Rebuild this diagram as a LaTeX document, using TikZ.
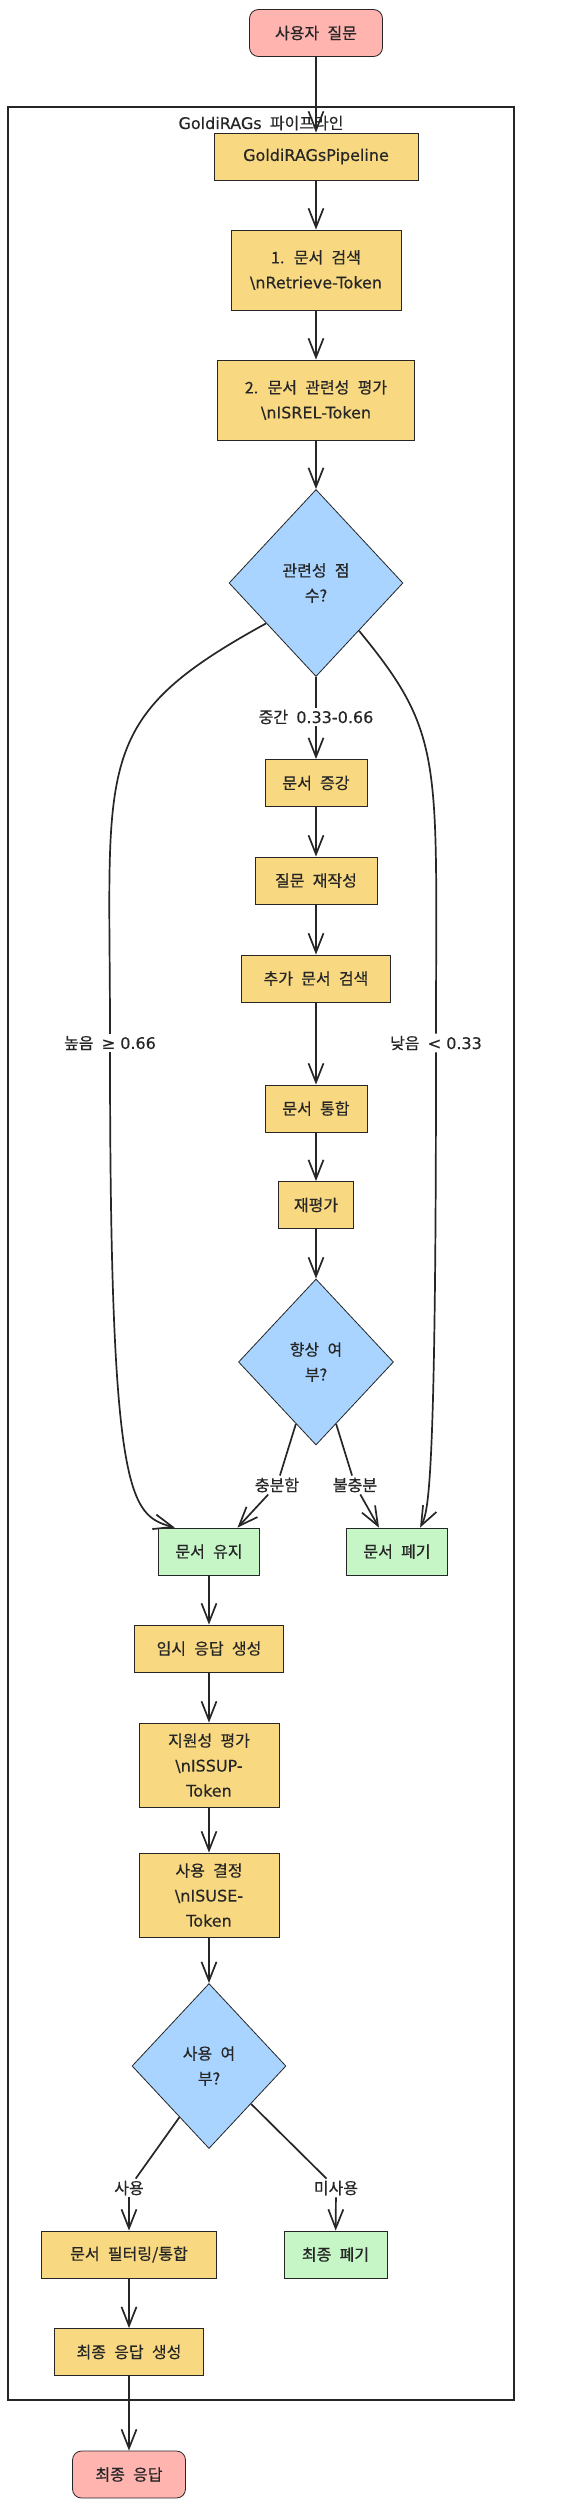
\documentclass[tikz,border=0pt]{standalone}
\usepackage{fontspec}
\setmainfont{Noto Sans CJK KR}[WordSpace=2.3, FakeBold=0.5]
\newfontfamily\lat{DejaVu Sans}[FakeBold=0.3]
\usetikzlibrary{arrows.meta,shapes.geometric}

\definecolor{procfill}{HTML}{F8D880}
\definecolor{docfill}{HTML}{C6F5C6}
\definecolor{termfill}{HTML}{FFB4B0}
\definecolor{decfill}{HTML}{A8D4FF}
\definecolor{ink}{HTML}{262626}

\begin{document}
\begin{tikzpicture}[x=1pt, y=-1pt, >={Straight Barb[length=19pt,width=15pt]}]
        \tikzset{
            base/.style={draw=ink, line width=0.8pt, text=ink, align=center, inner sep=3pt, font=\fontsize{16}{25}\selectfont},
            proc/.style={base, rectangle, fill=procfill, minimum height=47pt},
            doc/.style={base, rectangle, fill=docfill, minimum height=47pt},
            term/.style={base, rectangle, rounded corners=9pt, fill=termfill, minimum height=47pt},
            dec/.style={base, diamond, fill=decfill},
            lbl/.style={fill=white, text=ink, inner sep=2pt, font=\fontsize{16}{20}\selectfont},
            flow/.style={->, line width=1.7pt, ink},
            wire/.style={line width=1.7pt, ink},
            frame/.style={draw=ink, line width=1.5pt}
        }
        \useasboundingbox (0,0) rectangle (561,2508);

        \node[frame, minimum width=506pt, minimum height=2293pt] (pipeline) at (261,1253.5) {};
        \node[text=ink, font=\fontsize{16}{20}\selectfont] (title) at (261,123) {{\lat GoldiRAGs} 파이프라인};

        \node[term, minimum width=133pt] (ask) at (316,33) {사용자 질문};
        \node[proc, minimum width=204pt] (pipe) at (316,156.5) {\lat GoldiRAGsPipeline};
        \node[proc, minimum width=170pt, minimum height=80pt] (retrieve) at (316,270) {1. 문서 검색\\{\lat\textbackslash nRetrieve-Token}};
        \node[proc, minimum width=197pt, minimum height=80pt] (isrel) at (316,400) {2. 문서 관련성 평가\\{\lat\textbackslash nISREL-Token}};
        \node[dec, minimum width=174pt, minimum height=187pt] (score) at (316,583) {관련성 점\\수?};

        \node[proc, minimum width=102pt] (augment) at (316,783) {문서 증강};
        \node[proc, minimum width=122pt] (rewrite) at (316,880.5) {질문 재작성};
        \node[proc, minimum width=149pt] (extra) at (316,978.5) {추가 문서 검색};
        \node[proc, minimum width=102pt] (merge) at (316,1108.5) {문서 통합};
        \node[proc, minimum width=75pt] (reeval) at (316,1205) {재평가};
        \node[dec, minimum width=155pt, minimum height=166pt] (better) at (316,1362) {향상 여\\부?};

        \node[doc, minimum width=101pt] (keep) at (209,1551.5) {문서 유지};
        \node[doc, minimum width=101pt] (drop) at (397,1551.5) {문서 폐기};
        \node[proc, minimum width=149pt] (draft) at (209,1648.5) {임시 응답 생성};
        \node[proc, minimum width=140pt, minimum height=84pt] (issup) at (209,1765) {지원성 평가\\{\lat\textbackslash nISSUP-}\\{\lat Token}};
        \node[proc, minimum width=140pt, minimum height=84pt] (isuse) at (209,1895) {사용 결정\\{\lat\textbackslash nISUSE-}\\{\lat Token}};
        \node[dec, minimum width=154pt, minimum height=165pt] (use) at (209,2066) {사용 여\\부?};

        \node[proc, minimum width=175pt] (filter) at (129,2254.5) {문서 필터링/통합};
        \node[doc, minimum width=103pt] (reject) at (335.5,2254.5) {최종 폐기};
        \node[proc, minimum width=149pt] (gen) at (129,2352) {최종 응답 생성};
        \node[term, minimum width=113pt] (answer) at (129,2474.5) {최종 응답};

        \node[lbl] (mid) at (316,717) {중간 {\lat 0.33-0.66}};
        \node[lbl] (high) at (110,1043) {높음 {\lat ≥ 0.66}};
        \node[lbl] (low) at (436,1043) {낮음 {\lat < 0.33}};
        \node[lbl] (enough) at (277,1485) {충분함};
        \node[lbl] (short) at (355,1485) {불충분};
        \node[lbl] (yes) at (129,2188) {사용};
        \node[lbl] (no) at (336,2188) {미사용};

        \draw[flow] (ask) -- (pipe);
        \draw[flow] (pipe) -- (retrieve);
        \draw[flow] (retrieve) -- (isrel);
        \draw[flow] (isrel) -- (score);
        \draw[wire] (score) -- (mid);
        \draw[flow] (mid) -- (augment);
        \draw[flow] (augment) -- (rewrite);
        \draw[flow] (rewrite) -- (extra);
        \draw[flow] (extra) -- (merge);
        \draw[flow] (merge) -- (reeval);
        \draw[flow] (reeval) -- (better);

        \draw[wire] (score.219) .. controls (90,720) and (110,760) .. (high);
        \draw[flow] (high) .. controls (110,1500) and (130,1515) .. (keep.145);
        \draw[wire] (score.-48) .. controls (445,735) and (436,760) .. (low);
        \draw[flow] (low) .. controls (436,1495) and (428,1512) .. (drop.46);

        \draw[wire] (better.-108) -- (enough);
        \draw[flow] (enough) -- (keep.40);
        \draw[wire] (better.-72) -- (short);
        \draw[flow] (short) -- (drop.127);

        \draw[flow] (keep) -- (draft);
        \draw[flow] (draft) -- (issup);
        \draw[flow] (issup) -- (isuse);
        \draw[flow] (isuse) -- (use);
        \draw[wire] (use.-120) -- (yes);
        \draw[flow] (yes) -- (filter);
        \draw[wire] (use.-42) -- (no);
        \draw[flow] (no) -- (reject);
        \draw[flow] (filter) -- (gen);
        \draw[flow] (gen) -- (answer);
\end{tikzpicture}
\end{document}
